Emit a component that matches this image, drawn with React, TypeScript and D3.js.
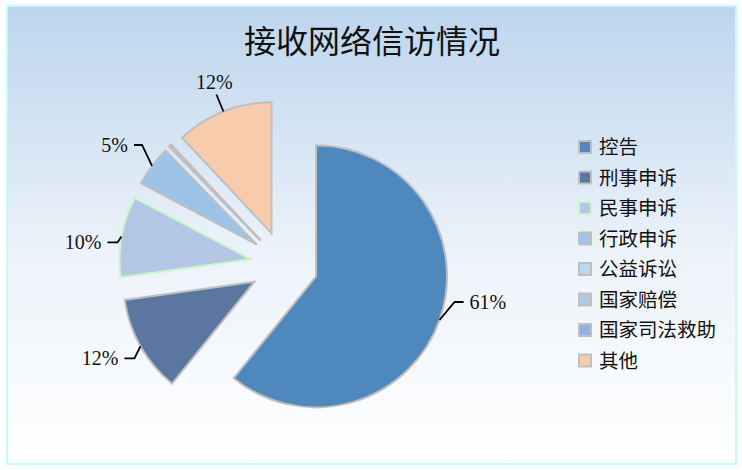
import { useMemo } from 'react';
import * as d3 from 'd3';

const CATEGORIES = ['控告', '刑事申诉', '民事申诉', '行政申诉', '公益诉讼', '国家赔偿', '国家司法救助', '其他'];
const VALUES = [61, 12, 10, 5, 0.1, 0.1, 0.1, 12];
const COLORS = ['#4F88BD', '#5B76A0', '#B4C6E6', '#9DC3E6', '#BDD7EE', '#B4C7E7', '#8FB4E2', '#F8CBAD'];
const STROKES = ['#BFBFBF', '#BFBFBF', '#C8F8C8', '#BFBFBF', '#BFBFBF', '#BFBFBF', '#BFBFBF', '#BFBFBF'];
const TITLE = '接收网络信访情况';

// leader line layout per slice: elbow offset from arc midpoint, then horizontal run
const LABEL_LAYOUT = [
  { dx: 15, dy: -18, hx: 9, anchor: 'start' },
  { dx: -6, dy: 12, hx: -10, anchor: 'end' },
  { dx: -4, dy: 6, hx: -10, anchor: 'end' },
  { dx: -10, dy: -21, hx: -8, anchor: 'end' },
  null,
  null,
  null,
  { dx: -7, dy: -17, hx: 0, anchor: 'middle' },
];

const W = 742;
const H = 470;

export default function App() {
  const cx = 284;
  const cy = 265;
  const r = 131;
  const explode = 34;

  const slices = useMemo(() => {
    const pie = d3.pie<number>().sort(null).value((d) => d);
    return pie(VALUES);
  }, []);
  const total = d3.sum(VALUES);
  const arc = d3.arc<d3.PieArcDatum<number>>().innerRadius(0).outerRadius(r);

  return (
    <div style={{ position: 'absolute', left: 0, top: 0 }}>
      <svg width={W} height={H} style={{ display: 'block' }}>
        <defs>
          <linearGradient id="bg" x1="0" y1="0" x2="0" y2="1">
            <stop offset="0" stopColor="#BCD5ED" />
            <stop offset="0.55" stopColor="#EDF3FA" />
            <stop offset="1" stopColor="#FFFFFF" />
          </linearGradient>
        </defs>
        <rect x={0} y={0} width={W} height={H} fill="#fff" />
        <rect x={7} y={6} width={729} height={458} fill="url(#bg)" stroke="#C2FCFF" strokeWidth={2} />
        <text
          x={372}
          y={53}
          textAnchor="middle"
          fontFamily="'Noto Sans CJK SC', sans-serif"
          fontSize={32}
          fill="#111"
        >
          {TITLE}
        </text>

        <g transform={`translate(${cx},${cy})`}>
          {slices.map((s, i) => {
            const mid = (s.startAngle + s.endAngle) / 2;
            const ox = explode * Math.sin(mid);
            const oy = -explode * Math.cos(mid);
            return (
              <path
                key={CATEGORIES[i]}
                d={arc(s) || ''}
                transform={`translate(${ox},${oy})`}
                fill={COLORS[i]}
                stroke={STROKES[i]}
                strokeWidth={2}
                strokeLinejoin="miter"
              />
            );
          })}
          {slices.map((s, i) => {
            const lay = LABEL_LAYOUT[i];
            if (!lay) return null;
            const mid = (s.startAngle + s.endAngle) / 2;
            const px = (explode + r) * Math.sin(mid);
            const py = -(explode + r) * Math.cos(mid);
            const ex = px + lay.dx;
            const ey = py + lay.dy;
            const hx = ex + lay.hx;
            const pct = Math.round((VALUES[i] / total) * 100) + '%';
            const tx = lay.anchor === 'middle' ? hx - 2 : hx + (lay.anchor === 'start' ? 6 : -6);
            const ty = lay.anchor === 'middle' ? ey - 13 : ey;
            return (
              <g key={'l' + i}>
                <polyline
                  points={`${px},${py} ${ex},${ey} ${hx},${ey}`}
                  fill="none"
                  stroke="#000"
                  strokeWidth={1.8}
                />
                <text
                  x={tx}
                  y={ty}
                  dy="0.35em"
                  textAnchor={lay.anchor}
                  fontFamily="'Liberation Serif', serif"
                  fontSize={20}
                  fill="#111"
                >
                  {pct}
                </text>
              </g>
            );
          })}
        </g>

        <g transform="translate(579,147)">
          {CATEGORIES.map((c, i) => (
            <g key={c} transform={`translate(0,${i * 30.5})`}>
              <rect x={0} y={-6} width={12} height={12} fill={COLORS[i]} stroke={STROKES[i]} strokeWidth={2} />
              <text
                x={20}
                y={0}
                dy="0.36em"
                fontFamily="'Noto Sans CJK SC', sans-serif"
                fontSize={19.5}
                fill="#111"
              >
                {c}
              </text>
            </g>
          ))}
        </g>
      </svg>
    </div>
  );
}
